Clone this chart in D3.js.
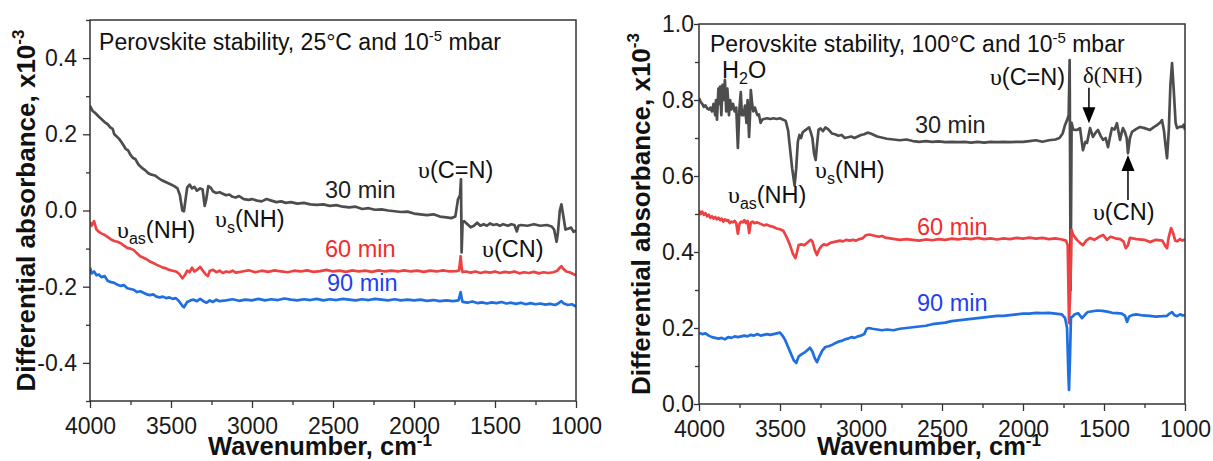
<!DOCTYPE html>
<html>
<head>
<meta charset="utf-8">
<script src="https://cdn.jsdelivr.net/npm/d3@7"></script>
<style>
  body { margin: 0; background: #fff; }
  text { font-family: "Liberation Sans", Arial, sans-serif; }
</style>
</head>
<body>
<script>
// wavenumber ticks shared by both panels
const xTicks = [4000, 3500, 3000, 2500, 2000, 1500, 1000];
const xMinor = [3750, 3250, 2750, 2250, 1750, 1250];
const yTicksL = [-0.4, -0.2, 0.0, 0.2, 0.4];
const yMinorL = [-0.5, -0.3, -0.1, 0.1, 0.3, 0.5];
const yTicksR = [0.0, 0.2, 0.4, 0.6, 0.8, 1.0];
const yMinorR = [0.1, 0.3, 0.5, 0.7, 0.9];

// 25 C panel, [wavenumber, differential absorbance x1e-3]
const l30 = [[4000,0.275],[3985,0.262],[3965,0.255],[3950,0.248],[3930,0.240],[3910,0.232],[3890,0.226],[3875,0.218],[3860,0.214],[3850,0.200],[3840,0.196],[3820,0.188],[3800,0.176],[3780,0.162],[3765,0.158],[3750,0.146],[3735,0.138],[3720,0.135],[3700,0.120],[3680,0.112],[3660,0.106],[3640,0.098],[3620,0.094],[3600,0.092],[3580,0.086],[3560,0.080],[3540,0.076],[3520,0.072],[3500,0.068],[3480,0.064],[3460,0.058],[3445,0.040],[3430,0.000],[3420,-0.002],[3410,0.030],[3400,0.060],[3385,0.068],[3370,0.058],[3355,0.062],[3340,0.052],[3320,0.058],[3305,0.055],[3292,0.012],[3282,0.030],[3270,0.064],[3255,0.060],[3240,0.050],[3220,0.046],[3200,0.048],[3180,0.044],[3160,0.040],[3140,0.042],[3120,0.036],[3100,0.034],[3080,0.038],[3050,0.030],[3020,0.028],[3000,0.030],[2970,0.026],[2940,0.024],[2910,0.030],[2880,0.026],[2850,0.022],[2820,0.024],[2790,0.020],[2760,0.022],[2720,0.018],[2680,0.020],[2640,0.016],[2600,0.015],[2560,0.016],[2520,0.012],[2480,0.014],[2440,0.010],[2400,0.008],[2360,0.010],[2320,0.004],[2280,0.006],[2240,0.002],[2200,0.003],[2160,0.000],[2120,-0.002],[2080,-0.004],[2040,-0.003],[2000,-0.008],[1960,-0.010],[1920,-0.012],[1880,-0.010],[1840,-0.016],[1800,-0.018],[1770,-0.020],[1745,-0.016],[1728,0.030],[1716,0.040],[1710,0.082],[1706,-0.110],[1700,-0.030],[1690,-0.028],[1670,-0.036],[1650,-0.044],[1630,-0.040],[1610,-0.032],[1590,-0.040],[1570,-0.036],[1550,-0.040],[1530,-0.034],[1510,-0.038],[1490,-0.036],[1470,-0.040],[1450,-0.036],[1420,-0.040],[1400,-0.036],[1380,-0.038],[1365,-0.055],[1355,-0.040],[1340,-0.038],[1300,-0.040],[1260,-0.036],[1220,-0.040],[1180,-0.038],[1150,-0.042],[1135,-0.050],[1120,-0.082],[1112,-0.060],[1100,0.000],[1090,0.016],[1080,-0.010],[1065,-0.050],[1050,-0.048],[1030,-0.045],[1015,-0.056],[1000,-0.052]];
const l60 = [[4000,-0.030],[3990,-0.040],[3975,-0.028],[3960,-0.050],[3945,-0.056],[3930,-0.060],[3910,-0.064],[3890,-0.070],[3870,-0.076],[3850,-0.080],[3830,-0.082],[3810,-0.086],[3790,-0.092],[3770,-0.098],[3750,-0.100],[3730,-0.104],[3710,-0.112],[3690,-0.120],[3670,-0.124],[3650,-0.128],[3630,-0.134],[3610,-0.138],[3590,-0.142],[3570,-0.146],[3550,-0.150],[3530,-0.152],[3510,-0.156],[3490,-0.158],[3470,-0.160],[3450,-0.166],[3430,-0.178],[3415,-0.170],[3400,-0.158],[3385,-0.162],[3370,-0.150],[3355,-0.160],[3340,-0.156],[3320,-0.148],[3300,-0.160],[3285,-0.168],[3272,-0.172],[3260,-0.158],[3240,-0.156],[3220,-0.162],[3200,-0.158],[3180,-0.164],[3160,-0.160],[3140,-0.162],[3120,-0.158],[3100,-0.163],[3060,-0.160],[3020,-0.157],[2980,-0.162],[2940,-0.158],[2900,-0.161],[2860,-0.157],[2820,-0.160],[2780,-0.162],[2740,-0.158],[2700,-0.160],[2660,-0.157],[2620,-0.161],[2580,-0.159],[2540,-0.156],[2500,-0.160],[2460,-0.158],[2420,-0.161],[2380,-0.157],[2340,-0.160],[2300,-0.158],[2260,-0.161],[2220,-0.157],[2180,-0.160],[2140,-0.158],[2100,-0.160],[2060,-0.157],[2020,-0.160],[1980,-0.158],[1940,-0.161],[1900,-0.158],[1860,-0.160],[1820,-0.157],[1780,-0.160],[1740,-0.159],[1722,-0.158],[1712,-0.120],[1706,-0.150],[1700,-0.162],[1680,-0.160],[1650,-0.163],[1620,-0.160],[1590,-0.164],[1560,-0.161],[1530,-0.163],[1500,-0.160],[1470,-0.164],[1440,-0.161],[1410,-0.163],[1380,-0.160],[1350,-0.165],[1320,-0.162],[1290,-0.164],[1260,-0.161],[1230,-0.165],[1200,-0.162],[1170,-0.164],[1140,-0.162],[1115,-0.158],[1100,-0.150],[1090,-0.146],[1080,-0.152],[1060,-0.160],[1040,-0.162],[1020,-0.166],[1000,-0.170]];
const l90 = [[4000,-0.150],[3990,-0.165],[3975,-0.160],[3960,-0.170],[3945,-0.168],[3930,-0.175],[3910,-0.172],[3890,-0.185],[3870,-0.188],[3850,-0.190],[3830,-0.195],[3810,-0.198],[3790,-0.196],[3770,-0.204],[3750,-0.206],[3730,-0.208],[3710,-0.214],[3690,-0.212],[3670,-0.216],[3650,-0.220],[3630,-0.222],[3610,-0.220],[3590,-0.226],[3570,-0.228],[3550,-0.226],[3530,-0.230],[3510,-0.228],[3490,-0.232],[3470,-0.230],[3450,-0.238],[3430,-0.250],[3420,-0.254],[3400,-0.240],[3380,-0.236],[3360,-0.234],[3340,-0.238],[3320,-0.232],[3300,-0.238],[3280,-0.242],[3260,-0.236],[3240,-0.240],[3220,-0.234],[3200,-0.238],[3160,-0.236],[3120,-0.233],[3080,-0.237],[3040,-0.234],[3000,-0.236],[2960,-0.232],[2920,-0.236],[2880,-0.233],[2840,-0.235],[2800,-0.231],[2760,-0.234],[2720,-0.236],[2680,-0.233],[2640,-0.235],[2600,-0.232],[2560,-0.236],[2520,-0.233],[2480,-0.235],[2440,-0.232],[2400,-0.234],[2360,-0.236],[2320,-0.233],[2280,-0.235],[2240,-0.232],[2200,-0.234],[2160,-0.236],[2120,-0.233],[2080,-0.236],[2040,-0.234],[2000,-0.236],[1960,-0.234],[1920,-0.237],[1880,-0.235],[1840,-0.238],[1800,-0.236],[1760,-0.238],[1725,-0.236],[1712,-0.214],[1705,-0.232],[1700,-0.240],[1670,-0.242],[1640,-0.239],[1610,-0.243],[1580,-0.241],[1550,-0.244],[1520,-0.241],[1490,-0.243],[1460,-0.240],[1430,-0.244],[1400,-0.242],[1370,-0.245],[1340,-0.242],[1310,-0.246],[1280,-0.243],[1250,-0.246],[1220,-0.244],[1190,-0.247],[1160,-0.245],[1130,-0.248],[1110,-0.244],[1090,-0.238],[1075,-0.244],[1050,-0.248],[1025,-0.246],[1000,-0.252]];

// 100 C panel
const r30 = [[4000,0.805],[3990,0.795],[3980,0.790],[3970,0.782],[3960,0.786],[3950,0.778],[3940,0.775],[3930,0.780],[3920,0.770],[3910,0.790],[3900,0.760],[3895,0.800],[3889,0.748],[3880,0.830],[3875,0.790],[3870,0.835],[3862,0.760],[3855,0.840],[3848,0.800],[3840,0.853],[3832,0.770],[3825,0.830],[3815,0.760],[3808,0.800],[3800,0.775],[3790,0.790],[3780,0.770],[3770,0.780],[3760,0.674],[3750,0.780],[3742,0.821],[3735,0.760],[3725,0.760],[3716,0.785],[3707,0.740],[3700,0.800],[3691,0.703],[3685,0.760],[3680,0.826],[3672,0.790],[3665,0.770],[3655,0.780],[3640,0.760],[3630,0.762],[3620,0.740],[3610,0.748],[3600,0.750],[3580,0.752],[3560,0.750],[3540,0.752],[3520,0.750],[3500,0.752],[3480,0.748],[3465,0.745],[3450,0.720],[3440,0.680],[3425,0.620],[3410,0.575],[3400,0.620],[3390,0.690],[3380,0.708],[3370,0.700],[3360,0.715],[3345,0.720],[3330,0.725],[3320,0.728],[3310,0.715],[3300,0.700],[3290,0.660],[3280,0.642],[3272,0.680],[3262,0.722],[3250,0.725],[3235,0.718],[3220,0.728],[3200,0.722],[3180,0.712],[3160,0.710],[3140,0.706],[3120,0.708],[3100,0.700],[3080,0.702],[3060,0.704],[3040,0.700],[3020,0.704],[3000,0.708],[2980,0.710],[2960,0.714],[2940,0.712],[2920,0.708],[2900,0.704],[2880,0.702],[2860,0.700],[2840,0.698],[2800,0.696],[2760,0.694],[2720,0.696],[2680,0.692],[2640,0.690],[2600,0.692],[2560,0.690],[2520,0.691],[2480,0.689],[2440,0.690],[2400,0.689],[2360,0.690],[2320,0.688],[2280,0.690],[2240,0.688],[2200,0.690],[2160,0.689],[2120,0.690],[2080,0.689],[2040,0.690],[2000,0.690],[1960,0.692],[1920,0.694],[1880,0.690],[1840,0.694],[1800,0.696],[1775,0.700],[1755,0.712],[1740,0.735],[1728,0.747],[1718,0.760],[1712,0.905],[1706,0.300],[1700,0.740],[1690,0.722],[1667,0.721],[1648,0.726],[1630,0.668],[1615,0.690],[1605,0.687],[1586,0.726],[1568,0.703],[1550,0.715],[1537,0.721],[1520,0.705],[1506,0.695],[1490,0.700],[1475,0.676],[1462,0.705],[1451,0.726],[1435,0.722],[1420,0.739],[1410,0.715],[1401,0.695],[1392,0.712],[1383,0.726],[1370,0.715],[1360,0.700],[1352,0.660],[1340,0.700],[1327,0.716],[1300,0.724],[1278,0.729],[1250,0.726],[1216,0.721],[1195,0.728],[1173,0.734],[1155,0.740],[1142,0.747],[1130,0.720],[1120,0.680],[1111,0.647],[1100,0.720],[1090,0.840],[1080,0.897],[1070,0.830],[1058,0.740],[1049,0.726],[1030,0.730],[1018,0.729],[1008,0.735],[1000,0.721]];
const r60 = [[4000,0.510],[3990,0.500],[3980,0.506],[3970,0.498],[3960,0.502],[3950,0.494],[3940,0.498],[3930,0.490],[3920,0.494],[3910,0.488],[3900,0.492],[3890,0.486],[3880,0.490],[3870,0.484],[3860,0.488],[3850,0.480],[3840,0.486],[3830,0.482],[3820,0.484],[3810,0.476],[3800,0.480],[3790,0.478],[3780,0.482],[3770,0.476],[3760,0.448],[3750,0.474],[3740,0.480],[3730,0.478],[3720,0.484],[3710,0.476],[3700,0.482],[3690,0.450],[3680,0.478],[3670,0.480],[3660,0.476],[3640,0.478],[3620,0.474],[3600,0.470],[3580,0.472],[3560,0.468],[3540,0.466],[3520,0.462],[3500,0.460],[3480,0.456],[3460,0.440],[3440,0.420],[3420,0.395],[3405,0.384],[3395,0.400],[3385,0.418],[3370,0.420],[3350,0.418],[3330,0.425],[3310,0.432],[3300,0.428],[3285,0.405],[3272,0.392],[3260,0.405],[3245,0.415],[3230,0.420],[3210,0.418],[3190,0.424],[3170,0.426],[3150,0.428],[3130,0.430],[3110,0.428],[3090,0.432],[3070,0.430],[3050,0.432],[3030,0.430],[3010,0.434],[2990,0.436],[2970,0.444],[2950,0.446],[2930,0.444],[2910,0.442],[2890,0.440],[2870,0.442],[2850,0.438],[2820,0.436],[2790,0.434],[2760,0.432],[2720,0.434],[2680,0.432],[2640,0.430],[2600,0.433],[2560,0.431],[2520,0.434],[2480,0.432],[2440,0.435],[2400,0.433],[2360,0.436],[2320,0.434],[2280,0.437],[2240,0.434],[2200,0.436],[2160,0.433],[2120,0.436],[2080,0.434],[2040,0.437],[2000,0.435],[1960,0.438],[1920,0.435],[1880,0.437],[1840,0.434],[1800,0.436],[1760,0.433],[1735,0.430],[1724,0.418],[1716,0.213],[1708,0.300],[1700,0.458],[1690,0.445],[1667,0.432],[1648,0.424],[1630,0.418],[1610,0.430],[1586,0.437],[1560,0.432],[1530,0.440],[1506,0.445],[1481,0.432],[1460,0.440],[1430,0.436],[1400,0.434],[1380,0.428],[1365,0.410],[1352,0.418],[1340,0.437],[1300,0.434],[1250,0.432],[1216,0.426],[1180,0.432],[1140,0.430],[1122,0.416],[1111,0.410],[1100,0.440],[1086,0.463],[1072,0.448],[1060,0.430],[1049,0.428],[1030,0.434],[1015,0.430],[1000,0.434]];
const r90 = [[4000,0.187],[3980,0.184],[3960,0.186],[3940,0.180],[3920,0.176],[3900,0.174],[3880,0.172],[3860,0.174],[3840,0.170],[3820,0.176],[3800,0.174],[3780,0.178],[3760,0.176],[3740,0.178],[3720,0.180],[3700,0.178],[3680,0.182],[3660,0.180],[3640,0.184],[3620,0.180],[3600,0.182],[3580,0.184],[3560,0.182],[3540,0.184],[3520,0.186],[3500,0.188],[3485,0.180],[3470,0.170],[3450,0.150],[3430,0.130],[3415,0.115],[3400,0.108],[3385,0.125],[3370,0.130],[3350,0.135],[3330,0.142],[3315,0.148],[3300,0.138],[3285,0.120],[3272,0.110],[3260,0.122],[3240,0.140],[3220,0.150],[3200,0.152],[3180,0.155],[3160,0.160],[3140,0.164],[3120,0.166],[3100,0.170],[3080,0.172],[3060,0.176],[3040,0.174],[3020,0.178],[3000,0.180],[2980,0.184],[2965,0.198],[2950,0.200],[2930,0.198],[2900,0.196],[2870,0.194],[2840,0.196],[2800,0.194],[2760,0.198],[2720,0.200],[2680,0.202],[2640,0.204],[2600,0.206],[2560,0.210],[2520,0.212],[2480,0.214],[2440,0.218],[2400,0.220],[2360,0.222],[2320,0.224],[2280,0.226],[2240,0.228],[2200,0.230],[2160,0.232],[2120,0.232],[2080,0.234],[2040,0.236],[2000,0.238],[1960,0.238],[1920,0.240],[1880,0.239],[1840,0.240],[1800,0.238],[1760,0.236],[1740,0.226],[1728,0.200],[1720,0.080],[1716,0.037],[1710,0.120],[1704,0.228],[1697,0.229],[1680,0.236],[1660,0.239],[1636,0.226],[1615,0.236],[1600,0.242],[1570,0.244],[1540,0.246],[1510,0.245],[1480,0.243],[1450,0.240],[1420,0.239],[1390,0.238],[1370,0.232],[1358,0.216],[1345,0.230],[1327,0.234],[1300,0.236],[1260,0.233],[1220,0.232],[1180,0.230],[1140,0.231],[1111,0.232],[1095,0.238],[1080,0.242],[1065,0.234],[1049,0.231],[1030,0.236],[1015,0.233],[1000,0.234]];

const W = 1213, H = 461;
const svg = d3.select("body").append("svg")
  .attr("width", W).attr("height", H);

const dark = "#4d4d4d", red = "#ee4242", blue = "#1f6fe0";

function panel(o) {
  const x = d3.scaleLinear().domain([4000, 1000]).range([o.left, o.left + 486]);
  const y = d3.scaleLinear().domain(o.yDomain).range([o.bottom, o.top]);
  const g = svg.append("g");

  // axes (major + minor)
  g.append("g").attr("transform", `translate(0,${o.bottom})`)
    .call(d3.axisBottom(x).tickValues(xTicks).tickFormat(d3.format("d")).tickSize(7).tickSizeOuter(0).tickPadding(10));
  g.append("g").attr("transform", `translate(0,${o.bottom})`)
    .call(d3.axisBottom(x).tickValues(xMinor).tickFormat("").tickSize(4).tickSizeOuter(0));
  const ya = g.append("g").attr("transform", `translate(${o.left},0)`)
    .call(d3.axisLeft(y).tickValues(o.yTicks).tickFormat(d3.format(".1f")).tickSize(o.ytick).tickSizeOuter(0).tickPadding(o.ypad));
  g.append("g").attr("transform", `translate(${o.left},0)`)
    .call(d3.axisLeft(y).tickValues(o.yMinor).tickFormat("").tickSize(4).tickSizeOuter(0));
  g.selectAll(".domain").remove();
  g.selectAll(".tick line").attr("stroke", "#333").attr("stroke-width", 1.3);
  g.selectAll(".tick text").attr("font-size", 23).attr("fill", "#1a1a1a")
    .attr("font-family", "Liberation Sans, Arial, sans-serif");
  ya.selectAll(".tick text").text(d => d < 0 ? "-" + d3.format(".1f")(-d) : d3.format(".1f")(d));

  const clipId = "clip" + o.left;
  svg.append("clipPath").attr("id", clipId).append("rect")
    .attr("x", o.left).attr("y", o.top).attr("width", 486).attr("height", o.bottom - o.top);

  const line = d3.line().x(d => x(d[0])).y(d => y(d[1]));
  g.append("g").attr("clip-path", `url(#${clipId})`)
    .selectAll("path").data(o.series).join("path")
    .attr("d", d => line(d.data)).attr("fill", "none")
    .attr("stroke", d => d.color).attr("stroke-width", 2.7)
    .attr("stroke-linejoin", "round");

  g.append("rect").attr("x", o.left).attr("y", o.top)
    .attr("width", 486).attr("height", o.bottom - o.top)
    .attr("fill", "none").attr("stroke", "#333").attr("stroke-width", 1.5);

  // axis titles
  const xt = g.append("text").attr("x", o.left + 230).attr("y", 455)
    .attr("text-anchor", "middle").attr("font-size", 25.5).attr("font-weight", "bold").attr("fill", "#111");
  xt.append("tspan").text("Wavenumber, cm");
  xt.append("tspan").attr("font-size", 17).attr("dy", -9).text("-1");

  const yt = g.append("text")
    .attr("transform", `translate(${o.ytx},${(o.top + o.bottom) / 2}) rotate(-90)`)
    .attr("text-anchor", "middle").attr("font-size", 26).attr("font-weight", "bold").attr("fill", "#111");
  yt.append("tspan").text("Differential absorbance, x10");
  yt.append("tspan").attr("font-size", 17).attr("dy", -11).text("-3");

  // panel title
  const tt = g.append("text").attr("x", x(o.title.wn)).attr("y", y(o.title.v))
    .attr("font-size", 23).attr("fill", "#111");
  tt.append("tspan").text(o.title.text);
  tt.append("tspan").attr("font-size", 15).attr("dy", -9).text("-5");
  tt.append("tspan").attr("dy", 9).text(" mbar");

  // annotations
  o.labels.forEach(l => {
    const t = g.append("text").attr("x", x(l.wn)).attr("y", y(l.v))
      .attr("font-size", 23.5).attr("fill", l.color || "#111");
    l.parts.forEach(p => {
      const s = t.append("tspan").text(p.t);
      if (p.serif) s.attr("font-family", "Liberation Serif, Times New Roman, serif").attr("font-size", p.fs || 24);
      if (p.sub) s.attr("font-size", 16).attr("dy", 6);
      if (p.up) s.attr("dy", -6);
    });
  });

  (o.arrows || []).forEach(a => {
    const ax = x(a.wn), y0 = y(a.from), y1 = y(a.to);
    const dir = y1 > y0 ? 1 : -1;
    g.append("line").attr("x1", ax).attr("x2", ax).attr("y1", y0).attr("y2", y1 - dir * 14)
      .attr("stroke", "#000").attr("stroke-width", 1.5);
    g.append("path")
      .attr("d", `M${ax - 6.5},${y1 - dir * 16}L${ax + 6.5},${y1 - dir * 16}L${ax},${y1}Z`)
      .attr("fill", "#000");
  });
}

const ups = "\u03c5";

panel({
  left: 90, top: 20, bottom: 401, yDomain: [-0.5, 0.5],
  yTicks: yTicksL, yMinor: yMinorL, ytick: 7, ypad: 6, ytx: 35,
  series: [{data: l30, color: dark}, {data: l60, color: red}, {data: l90, color: blue}],
  title: {wn: 3944, v: 0.421, text: "Perovskite stability, 25°C and 10"},
  labels: [
    {wn: 2549, v: 0.034, parts: [{t: "30 min"}], color: "#222"},
    {wn: 1975, v: 0.086, parts: [{t: ups, serif: true}, {t: "(C=N)"}]},
    {wn: 3833, v: -0.071, parts: [{t: ups, serif: true}, {t: "as", sub: true}, {t: "(NH)", up: true}]},
    {wn: 3228, v: -0.044, parts: [{t: ups, serif: true}, {t: "s", sub: true}, {t: "(NH)", up: true}]},
    {wn: 2549, v: -0.123, parts: [{t: "60 min"}], color: "#f22c2c"},
    {wn: 2537, v: -0.212, parts: [{t: "90 min"}], color: "#1f3ff0"},
    {wn: 1580, v: -0.123, parts: [{t: ups, serif: true}, {t: "(CN)"}]}
  ]
});

panel({
  left: 699, top: 24, bottom: 404, yDomain: [0, 1],
  yTicks: yTicksR, yMinor: yMinorR, ytick: 5, ypad: 0, ytx: 650,
  series: [{data: r30, color: dark}, {data: r60, color: red}, {data: r90, color: blue}],
  title: {wn: 3932, v: 0.926, text: "Perovskite stability, 100°C and 10"},
  labels: [
    {wn: 3858, v: 0.858, parts: [{t: "H"}, {t: "2", sub: true}, {t: "O", up: true}]},
    {wn: 3284, v: 0.595, parts: [{t: ups, serif: true}, {t: "s", sub: true}, {t: "(NH)", up: true}]},
    {wn: 3821, v: 0.529, parts: [{t: ups, serif: true}, {t: "as", sub: true}, {t: "(NH)", up: true}]},
    {wn: 2204, v: 0.839, parts: [{t: ups, serif: true}, {t: "(C=N)"}]},
    {wn: 1630, v: 0.845, parts: [{t: "\u03b4(NH)", serif: true, fs: 23}]},
    {wn: 2667, v: 0.713, parts: [{t: "30 min"}], color: "#222"},
    {wn: 1568, v: 0.484, parts: [{t: ups, serif: true}, {t: "(CN)"}]},
    {wn: 2654, v: 0.445, parts: [{t: "60 min"}], color: "#f22c2c"},
    {wn: 2654, v: 0.245, parts: [{t: "90 min"}], color: "#1f3ff0"}
  ],
  arrows: [{wn: 1593, from: 0.832, to: 0.739}, {wn: 1352, from: 0.537, to: 0.655}]
});
</script>
</body>
</html>
